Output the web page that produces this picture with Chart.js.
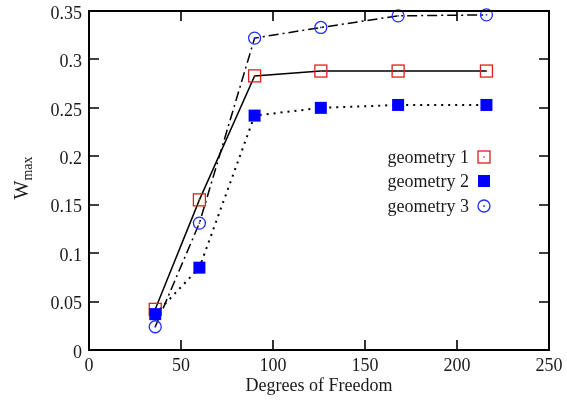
<!DOCTYPE html>
<html>
<head>
<meta charset="utf-8">
<script src="https://cdn.jsdelivr.net/npm/chart.js@4/dist/chart.umd.min.js"></script>
<style>
  html, body { margin: 0; padding: 0; background: #fff; }
  #wrap { width: 567px; height: 401px; }
</style>
</head>
<body>
<div id="wrap"><canvas id="wmax-chart" width="567" height="401"></canvas></div>
<script>
const dof = [36, 60, 90, 126, 168, 216];
const geometry1 = [0.042, 0.155, 0.283, 0.288, 0.288, 0.288];
const geometry2 = [0.037, 0.085, 0.242, 0.25, 0.253, 0.253];
const geometry3 = [0.024, 0.131, 0.322, 0.333, 0.345, 0.346];
const seriesNames = ["geometry 1", "geometry 2", "geometry 3"];
const xTicks = [0, 50, 100, 150, 200, 250];
const yTicks = [0, 0.05, 0.1, 0.15, 0.2, 0.25, 0.3, 0.35];

const FONT = "'Liberation Serif', 'Times New Roman', serif";
const TEXT = "#1a1a1a";

function pts(ys) {
  return dof.map((x, i) => ({ x, y: ys[i] }));
}

// draw a marker of a given dataset style at (x, y)
function drawMarker(ctx, idx, x, y) {
  ctx.save();
  ctx.setLineDash([]);
  if (idx === 0) {
    ctx.strokeStyle = "#e0201c";
    ctx.lineWidth = 1.3;
    ctx.strokeRect(x - 6, y - 6, 12, 12);
    ctx.fillStyle = "#e0201c";
    ctx.fillRect(x - 0.7, y - 0.7, 1.4, 1.4);
  } else if (idx === 1) {
    ctx.fillStyle = "#0000ff";
    ctx.fillRect(x - 6, y - 6, 12, 12);
  } else {
    ctx.strokeStyle = "#1f2fff";
    ctx.lineWidth = 1.3;
    ctx.beginPath();
    ctx.arc(x, y, 6, 0, Math.PI * 2);
    ctx.stroke();
    ctx.fillStyle = "#1f2fff";
    ctx.beginPath();
    ctx.arc(x, y, 0.9, 0, Math.PI * 2);
    ctx.fill();
  }
  ctx.restore();
}

const framePlugin = {
  id: "frame",
  afterDatasetsDraw(chart) {
    const ctx = chart.ctx;
    // markers on top of the lines, drawn at the library's point positions
    [0, 2, 1].forEach((idx) => {
      chart.getDatasetMeta(idx).data.forEach((el) => drawMarker(ctx, idx, el.x, el.y));
    });
  },
  afterDraw(chart) {
    const ctx = chart.ctx;
    const a = chart.chartArea;
    const xs = chart.scales.x;
    const ys = chart.scales.y;
    ctx.save();
    ctx.strokeStyle = "#000";
    ctx.lineWidth = 2;
    ctx.strokeRect(a.left, a.top, a.right - a.left, a.bottom - a.top);
    ctx.lineWidth = 1.6;
    ctx.beginPath();
    xTicks.slice(1, -1).forEach((v) => {
      const px = Math.round(xs.getPixelForValue(v));
      ctx.moveTo(px, a.bottom);
      ctx.lineTo(px, a.bottom - 10);
      ctx.moveTo(px, a.top);
      ctx.lineTo(px, a.top + 10);
    });
    yTicks.slice(1, -1).forEach((v) => {
      const py = Math.round(ys.getPixelForValue(v));
      ctx.moveTo(a.left, py);
      ctx.lineTo(a.left + 10, py);
      ctx.moveTo(a.right, py);
      ctx.lineTo(a.right - 10, py);
    });
    ctx.stroke();

    // y tick labels, sitting a little below their ticks like the original
    ctx.fillStyle = TEXT;
    ctx.font = "18px " + FONT;
    ctx.textAlign = "right";
    ctx.textBaseline = "middle";
    yTicks.forEach((v) => {
      ctx.fillText(String(+v.toFixed(2)), a.left - 7, ys.getPixelForValue(v) + 3);
    });

    // y axis title: W with subscript max, rotated
    ctx.translate(28, 178);
    ctx.rotate(-Math.PI / 2);
    ctx.textBaseline = "alphabetic";
    ctx.font = "20px " + FONT;
    ctx.textAlign = "left";
    const wW = ctx.measureText("W").width;
    ctx.font = "14px " + FONT;
    const mW = ctx.measureText("max").width;
    const start = -(wW + mW) / 2;
    ctx.font = "20px " + FONT;
    ctx.fillText("W", start, 0);
    ctx.font = "14px " + FONT;
    ctx.fillText("max", start + wW, 4);
    ctx.restore();

    // legend: text right-aligned, marker to the right
    ctx.save();
    ctx.font = "18px " + FONT;
    ctx.fillStyle = TEXT;
    ctx.textAlign = "right";
    ctx.textBaseline = "middle";
    const rows = [157, 181, 206];
    seriesNames.forEach((name, i) => {
      ctx.fillText(name, 469, rows[i] + 1);
      drawMarker(ctx, i, 484, rows[i]);
    });
    ctx.restore();
  },
};

const chartCanvas = document.getElementById("wmax-chart");
const wmaxChart = new Chart(chartCanvas, {
  type: "line",
  data: {
    datasets: [
      {
        label: seriesNames[0],
        data: pts(geometry1),
        borderColor: "#000",
        borderWidth: 1.5,
        pointRadius: 0,
        fill: false,
      },
      {
        label: seriesNames[1],
        data: pts(geometry2),
        borderColor: "#000",
        borderWidth: 2,
        borderDash: [2, 5],
        pointRadius: 0,
        fill: false,
      },
      {
        label: seriesNames[2],
        data: pts(geometry3),
        borderColor: "#000",
        borderWidth: 1.5,
        borderDash: [10, 4, 2, 4],
        pointRadius: 0,
        fill: false,
      },
    ],
  },
  options: {
    responsive: false,
    animation: false,
    events: [],
    layout: {
      padding: { top: 11, right: 18, left: 0, bottom: 0 },
    },
    plugins: {
      legend: { display: false },
      tooltip: { enabled: false },
    },
    scales: {
      x: {
        type: "linear",
        min: 0,
        max: 250,
        grid: { display: false, drawTicks: false },
        border: { display: false },
        afterFit(scale) {
          scale.height = 51;
          scale.paddingLeft = 0;
          scale.paddingRight = 0;
        },
        afterBuildTicks(scale) {
          scale.ticks = xTicks.map((v) => ({ value: v }));
        },
        ticks: {
          padding: 5,
          color: TEXT,
          font: { family: FONT, size: 18 },
        },
        title: {
          display: true,
          text: "Degrees of Freedom",
          color: TEXT,
          font: { family: FONT, size: 18 },
          padding: { top: 0, bottom: 4 },
        },
      },
      y: {
        min: 0,
        max: 0.35,
        grid: { display: false, drawTicks: false },
        border: { display: false },
        afterFit(scale) {
          scale.width = 89;
          scale.paddingTop = 0;
          scale.paddingBottom = 0;
        },
        afterBuildTicks(scale) {
          scale.ticks = yTicks.map((v) => ({ value: v }));
        },
        ticks: { display: false },
      },
    },
  },
  plugins: [framePlugin],
});
</script>
</body>
</html>
